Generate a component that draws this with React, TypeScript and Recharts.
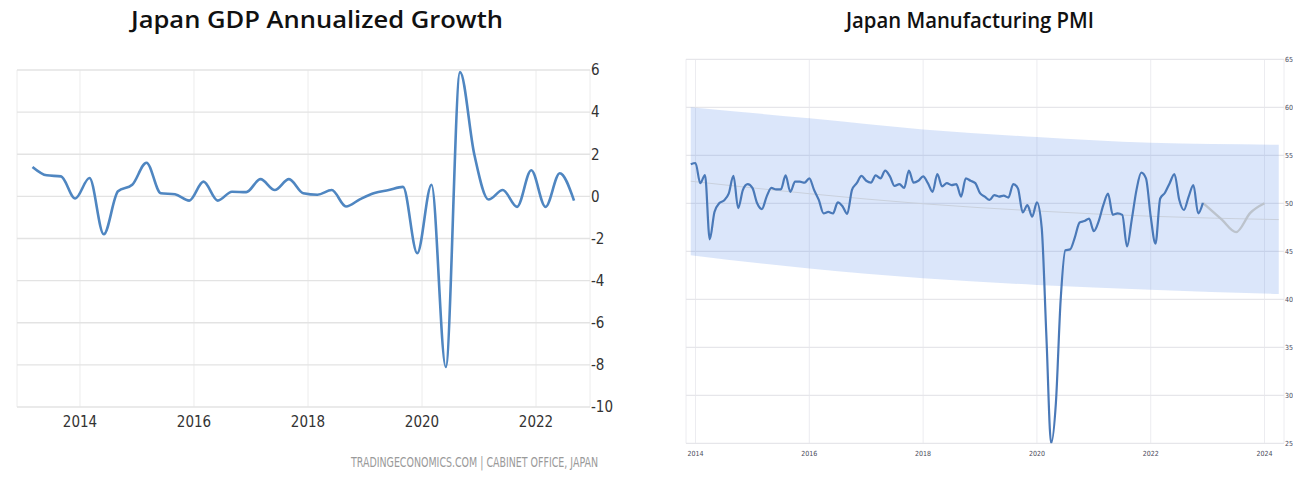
import React from 'react';
import { ComposedChart, Line, Area, XAxis, YAxis, CartesianGrid } from 'recharts';

// ---------- Japan GDP Annualized Growth (quarterly) ----------
const gdpYears = [2013, 2014, 2015, 2016, 2017, 2018, 2019, 2020, 2021, 2022];
const gdpQuarters: string[] = [];
gdpYears.forEach((y) => {
  [1, 2, 3, 4].forEach((q) => {
    if (y === 2022 && q === 4) return;
    gdpQuarters.push(`${y} Q${q}`);
  });
});
const gdpValues = [
  1.4, 1.0, 0.95, -0.1,
  0.87, -1.8, 0.24, 0.55,
  1.6, 0.15, 0.1, -0.2,
  0.7, -0.2, 0.22, 0.2,
  0.82, 0.3, 0.82, 0.15,
  0.08, 0.3, -0.48, -0.13,
  0.16, 0.3, 0.45, -2.7,
  0.55, -8.1, 5.9, 2.0,
  -0.15, 0.3, -0.5, 1.24,
  -0.5, 1.1, -0.2,
];
const gdpYTicks = [-10, -8, -6, -4, -2, 0, 2, 4, 6];
const gdpXTicks = [2014, 2016, 2018, 2020, 2022];

// ---------- Japan Manufacturing PMI (monthly) ----------
const pmiStart = { year: 2013, month: 12 };
const pmiValues = [
  54.06,
  54.2, 52.1, 52.95, 46.25, 49.1, 50.0, 50.3, 51.0, 52.85, 49.5, 51.4, 52.0,
  51.6, 50.0, 49.4, 50.7, 51.6, 51.45, 51.45, 52.9, 51.2, 52.25, 52.25, 52.15,
  52.6, 51.4, 50.35, 48.95, 49.1, 48.95, 50.1, 49.7, 48.9, 51.4, 52.1, 52.85,
  52.35, 52.15, 52.9, 52.6, 53.4, 52.8, 51.8, 52.0, 51.6, 53.4, 52.15, 52.35,
  52.8, 52.1, 51.2, 53.05, 51.75, 52.1, 51.9, 52.0, 50.7, 52.6, 52.35, 52.1,
  51.05, 50.7, 50.35, 50.85, 50.7, 50.8, 50.6, 52.0, 51.55, 49.05, 49.8, 48.6,
  50.1, 47.5, 36.1, 25.0, 29.2, 39.9, 45.1, 45.2, 46.45, 48.0, 48.15, 48.4,
  47.1, 48.1, 49.8, 51.0, 48.8, 48.95, 48.8, 45.5, 48.3, 51.4, 53.2, 52.6,
  48.6, 45.8, 50.5, 51.1, 52.1, 53.05, 50.4, 49.3, 50.7, 51.9, 48.95, 50.05,
];
const pmiMonths: string[] = pmiValues.map((_, i) => {
  const m0 = pmiStart.month - 1 + i;
  const y = pmiStart.year + Math.floor(m0 / 12);
  const m = (m0 % 12) + 1;
  return `${y}-${String(m).padStart(2, '0')}`;
});
const forecastMonths = ['2022-12', '2023-04', '2023-07', '2023-10', '2024-01'];
const forecastValues = [50.05, 48.3, 47.0, 49.0, 50.0];
const bandMonths = ['2013-12', '2016-01', '2018-01', '2020-01', '2022-01', '2024-04'];
const bandUpper = [60.0, 58.85, 57.7, 56.9, 56.3, 56.1];
const bandLower = [44.6, 43.2, 42.2, 41.5, 41.0, 40.55];
const trendValues = [52.3, 51.0, 49.95, 49.2, 48.65, 48.3];
const pmiYTicks = [25, 30, 35, 40, 45, 50, 55, 60, 65];
const pmiXTicks = [2014, 2016, 2018, 2020, 2022, 2024];

// ---------- helpers ----------
const monthToYear = (s: string) => {
  const [y, m] = s.split('-').map(Number);
  return y + (m - 1) / 12;
};
const quarterToYear = (s: string) => {
  const [y, q] = s.split(' Q').map(Number);
  return y + (3 * q - 1) / 12;
};

const gdpData = gdpQuarters.map((q, i) => ({ x: quarterToYear(q), v: gdpValues[i] }));
const pmiData = pmiMonths.map((m, i) => ({ x: monthToYear(m), v: pmiValues[i] }));
const fcData = forecastMonths.map((m, i) => ({ x: monthToYear(m), v: forecastValues[i] }));
const bandData = bandMonths.map((m, i) => ({ x: monthToYear(m), range: [bandLower[i], bandUpper[i]] }));
const trendData = bandMonths.map((m, i) => ({ x: monthToYear(m), v: trendValues[i] }));

const narrow = '"Liberation Sans Narrow", "DejaVu Sans Condensed", "Liberation Sans", sans-serif';
const titleFont = '"Open Sans", "Noto Sans", sans-serif';

export default function App() {
  return (
    <div style={{ position: 'absolute', left: 0, top: 0, width: 1293, height: 477, background: '#fff', overflow: 'hidden' }}>
      <div style={{ position: 'absolute', left: 0, top: 0 }}>
        <ComposedChart width={620} height={477} margin={{ top: 70, right: 0, bottom: 40, left: 17 }}>
          <CartesianGrid horizontal={false} vertical stroke="#ececec" />
          <CartesianGrid horizontal vertical={false} stroke="#e3e3e3" strokeWidth={1.3} />
          <XAxis
            dataKey="x"
            type="number"
            domain={[2012.895, 2022.947]}
            ticks={gdpXTicks}
            allowDataOverflow
            axisLine={false}
            tickLine={false}
            tickSize={0}
            tickMargin={9}
            height={30}
            tick={{ fontFamily: narrow, fontSize: 15, fill: '#333' }}
          />
          <YAxis
            orientation="right"
            type="number"
            domain={[-10, 6]}
            ticks={gdpYTicks}
            allowDataOverflow
            axisLine={false}
            tickLine={false}
            tickSize={0}
            tickMargin={1}
            width={30}
            tick={{ fontFamily: narrow, fontSize: 15, fill: '#333', textAnchor: 'start' }}
          />
          <Line data={gdpData} dataKey="v" type="monotone" stroke="#4f86c1" strokeWidth={2.6} dot={false} isAnimationActive={false} />
        </ComposedChart>
      </div>
      <div style={{ position: 'absolute', left: 640, top: 0 }}>
        <ComposedChart width={653} height={477} margin={{ top: 59.3, right: 0, bottom: 13.7, left: 46 }}>
          <CartesianGrid horizontal={false} vertical stroke="#ececf0" />
          <CartesianGrid horizontal vertical={false} stroke="#e6e6ea" strokeWidth={1.3} />
          <XAxis
            dataKey="x"
            type="number"
            domain={[2013.833, 2024.342]}
            ticks={pmiXTicks}
            allowDataOverflow
            axisLine={false}
            tickLine={false}
            tickSize={0}
            tickMargin={8}
            height={20}
            tick={{ fontFamily: narrow, fontSize: 7, fill: '#4a4a5a' }}
          />
          <YAxis
            orientation="right"
            type="number"
            domain={[25, 65]}
            ticks={pmiYTicks}
            allowDataOverflow
            axisLine={false}
            tickLine={false}
            tickSize={0}
            tickMargin={1}
            width={9}
            tick={{ fontFamily: narrow, fontSize: 7, fill: '#4a4a5a', textAnchor: 'start' }}
          />
          <Area
            data={bandData}
            dataKey="range"
            type="monotone"
            stroke="none"
            fill="#5a8ce6"
            fillOpacity={0.22}
            isAnimationActive={false}
          />
          <Line data={trendData} dataKey="v" type="monotone" stroke="#c9d0dc" strokeWidth={1} dot={false} isAnimationActive={false} />
          <Line data={fcData} dataKey="v" type="monotone" stroke="#bcc3cc" strokeWidth={2.4} dot={false} isAnimationActive={false} />
          <Line data={pmiData} dataKey="v" type="monotone" stroke="#4a79b8" strokeWidth={2.2} dot={false} isAnimationActive={false} />
        </ComposedChart>
      </div>
      <svg width={1293} height={477} style={{ position: 'absolute', left: 0, top: 0, pointerEvents: 'none' }}>
        <text x={131} y={28.3} fontFamily={titleFont} fontWeight={600} fontSize={23} fill="#111" textLength={372} lengthAdjust="spacingAndGlyphs">
          Japan GDP Annualized Growth
        </text>
        <text x={846} y={28.3} fontFamily={titleFont} fontWeight={600} fontSize={22} fill="#111" textLength={248} lengthAdjust="spacingAndGlyphs">
          Japan Manufacturing PMI
        </text>
        <text x={351} y={467.3} fontFamily={narrow} fontSize={14} fill="#9a9a9a" textLength={247} lengthAdjust="spacingAndGlyphs">
          TRADINGECONOMICS.COM | CABINET OFFICE, JAPAN
        </text>
      </svg>
    </div>
  );
}
